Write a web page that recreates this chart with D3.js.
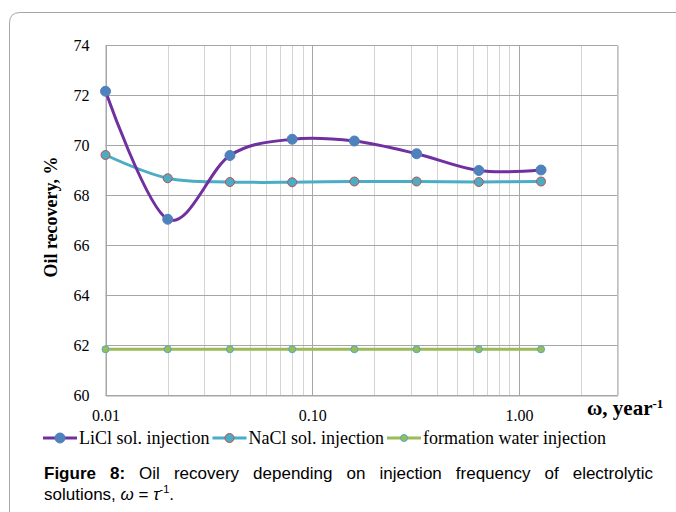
<!DOCTYPE html>
<html>
<head>
<meta charset="utf-8">
<script src="https://cdn.jsdelivr.net/npm/d3@7/dist/d3.min.js"></script>
<style>
  html, body { margin: 0; padding: 0; background: #fff; }
  svg { display: block; }
</style>
</head>
<body>
<svg id="chart" width="676" height="512"></svg>
<script>
// Injection frequency, year^-1
const omega = [0.01, 0.02, 0.04, 0.08, 0.16, 0.32, 0.64, 1.28];
// Oil recovery, %
const liclRecovery = [72.17, 67.05, 69.6, 70.25, 70.18, 69.67, 69.0, 69.02];
const naclRecovery = [69.62, 68.69, 68.54, 68.53, 68.56, 68.56, 68.54, 68.56];
const waterRecovery = [61.85, 61.85, 61.85, 61.85, 61.85, 61.85, 61.85, 61.85];

const seriesNames = ["LiCl sol. injection", "NaCl sol. injection", "formation water injection"];
const yTicks = [60, 62, 64, 66, 68, 70, 72, 74];
const xTickValues = [0.01, 0.1, 1];
const xTickLabels = ["0.01", "0.10", "1.00"];

const svg = d3.select("#chart");

// outer frame of the figure
svg.append("path")
  .attr("d", "M9.5,512 L9.5,23 Q9.5,12.5 20,12.5 L676,12.5")
  .attr("fill", "none").attr("stroke", "#a6a6a6").attr("stroke-width", 1);

const plotLeft = 105.5, plotRight = 617.5, plotTop = 45.5, plotBottom = 395.5;
const x = d3.scaleLog().domain([0.01, 3]).range([plotLeft, plotRight]);
const y = d3.scaleLinear().domain([60, 74]).range([plotBottom, plotTop]);

const serif = "'Liberation Serif', 'Times New Roman', serif";

// minor vertical gridlines
const minor = [];
[0.01, 0.1, 1].forEach(d => { for (let k = 2; k <= 9; k++) { const v = d * k; if (v <= 3.0001) minor.push(v); } });
const g = svg.append("g");
g.selectAll("line.minor").data(minor).enter().append("line")
  .attr("x1", d => Math.round(x(d)) + 0.5).attr("x2", d => Math.round(x(d)) + 0.5)
  .attr("y1", plotTop).attr("y2", plotBottom)
  .attr("stroke", "#d4d4d4").attr("stroke-width", 1);
// major vertical gridlines
g.selectAll("line.major").data(xTickValues).enter().append("line")
  .attr("x1", d => Math.round(x(d)) + 0.5).attr("x2", d => Math.round(x(d)) + 0.5)
  .attr("y1", plotTop).attr("y2", plotBottom)
  .attr("stroke", "#a6a6a6").attr("stroke-width", 1);
// horizontal gridlines
g.selectAll("line.h").data(yTicks).enter().append("line")
  .attr("x1", plotLeft).attr("x2", plotRight)
  .attr("y1", d => y(d)).attr("y2", d => y(d))
  .attr("stroke", "#a6a6a6").attr("stroke-width", 1);
// plot border
g.append("line").attr("x1", plotRight).attr("x2", plotRight).attr("y1", plotTop).attr("y2", plotBottom)
  .attr("stroke", "#bfbfbf");

// y axis
const yAxis = d3.axisLeft(y).tickValues(yTicks).tickSize(0).tickPadding(16);
const yg = svg.append("g").attr("transform", `translate(${plotLeft},0)`).call(yAxis);
yg.select(".domain").attr("stroke", "#a6a6a6");
yg.selectAll("text").attr("font-family", serif).attr("font-size", 16).attr("fill", "#000");

// x axis
const xAxis = d3.axisBottom(x).tickValues(xTickValues).tickSize(0).tickPadding(14)
  .tickFormat((d, i) => xTickLabels[i]);
const xg = svg.append("g").attr("transform", `translate(0,${plotBottom})`).call(xAxis);
xg.select(".domain").attr("stroke", "#a6a6a6");
xg.selectAll("text").attr("font-family", serif).attr("font-size", 16).attr("fill", "#000");

// axis titles
svg.append("text").attr("transform", "translate(57,217) rotate(-90)")
  .attr("text-anchor", "middle").attr("font-family", serif).attr("font-weight", "bold")
  .attr("font-size", 18).text("Oil recovery, %");
const xt = svg.append("text").attr("x", 587).attr("y", 415)
  .attr("font-family", serif).attr("font-weight", "bold").attr("font-size", 21);
xt.append("tspan").text("ω, year");
xt.append("tspan").attr("dy", -7).attr("font-size", 13).text("-1");

// series
const series = [
  { name: seriesNames[0], values: liclRecovery, line: "#7030a0", fill: "#4f81bd", stroke: "#4f81bd", r: 5 },
  { name: seriesNames[1], values: naclRecovery, line: "#4bacc6", fill: "#4bacc6", stroke: "#c0504d", r: 4.5 },
  { name: seriesNames[2], values: waterRecovery, line: "#9bbb59", fill: "#9bbb59", stroke: "#4bacc6", r: 3.5 }
];

const lineGen = d3.line()
  .x((d, i) => x(omega[i]))
  .y(d => y(d))
  .curve(d3.curveCardinal.tension(0));

// draw in reverse so LiCl sits on top
series.slice().reverse().forEach(s => {
  svg.append("path").datum(s.values).attr("d", lineGen)
    .attr("fill", "none").attr("stroke", s.line).attr("stroke-width", 3)
    .attr("stroke-linecap", "round");
  svg.selectAll(null).data(s.values).enter().append("circle")
    .attr("cx", (d, i) => x(omega[i])).attr("cy", d => y(d)).attr("r", s.r)
    .attr("fill", s.fill).attr("stroke", s.stroke).attr("stroke-width", 1);
});

// legend, items laid out one after another
const legend = svg.append("g");
let lx = 43;
series.forEach(s => {
  legend.append("line").attr("x1", lx).attr("x2", lx + 34).attr("y1", 438).attr("y2", 438)
    .attr("stroke", s.line).attr("stroke-width", 3);
  legend.append("circle").attr("cx", lx + 17).attr("cy", 438).attr("r", s.r)
    .attr("fill", s.fill).attr("stroke", s.stroke).attr("stroke-width", 1);
  const t = legend.append("text").attr("x", lx + 36).attr("y", 444)
    .attr("font-family", serif).attr("font-size", 18).text(s.name);
  lx += 36 + t.node().getComputedTextLength() + 3;
});

// caption, justified first line
const sans = "'Liberation Sans', Arial, sans-serif";
const capWords = [
  { t: "Figure", b: true }, { t: "8:", b: true }, { t: "Oil" }, { t: "recovery" }, { t: "depending" },
  { t: "on" }, { t: "injection" }, { t: "frequency" }, { t: "of" }, { t: "electrolytic" }
];
const capLeft = 44, capRight = 653, capY1 = 479, capY2 = 500;
const nodes = capWords.map(w => svg.append("text").attr("y", capY1)
  .attr("font-family", sans).attr("font-size", 17)
  .attr("font-weight", w.b ? "bold" : "normal").text(w.t));
const widths = nodes.map(n => n.node().getComputedTextLength());
const gap = (capRight - capLeft - d3.sum(widths)) / (nodes.length - 1);
let cx = capLeft;
nodes.forEach((n, i) => { n.attr("x", cx); cx += widths[i] + gap; });

const l2 = svg.append("text").attr("x", capLeft).attr("y", capY2)
  .attr("font-family", sans).attr("font-size", 17);
l2.append("tspan").text("solutions, ");
l2.append("tspan").attr("font-style", "italic").text("ω");
l2.append("tspan").text(" = ");
l2.append("tspan").attr("font-style", "italic").text("τ");
l2.append("tspan").attr("dy", -7).attr("font-size", 11).text("-1");
l2.append("tspan").attr("dy", 7).text(".");
</script>
</body>
</html>
